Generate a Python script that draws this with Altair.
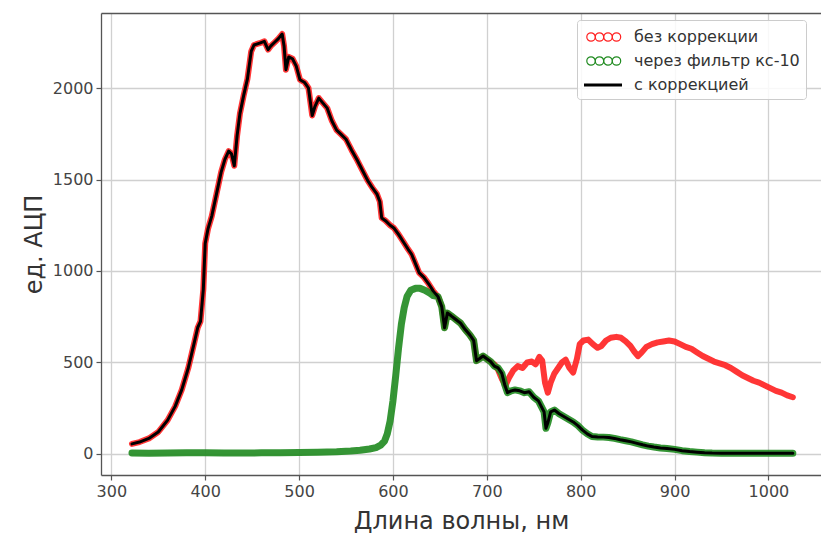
import altair as alt
import pandas as pd

# ---- data (wavelength nm, ADC units) ----
common_wl = [322, 330, 340, 350, 360, 368, 375, 382, 388, 392, 395, 398, 400, 403, 407,
             412, 417, 421, 425, 428, 431, 434, 437, 441, 445, 449, 452, 458, 463, 467,
             470, 474, 478, 482, 484, 486, 489, 493, 497, 501, 506, 510, 514, 517, 521,
             525, 530, 535, 540, 545, 550, 556, 562, 568, 573, 578, 583, 586, 588, 592,
             597, 601, 606, 611, 616, 620, 624, 628, 633, 638, 643, 648, 652, 655, 658,
             662, 667, 672, 677, 682, 686, 689, 692, 696, 700, 704]
common_val = [55, 65, 85, 120, 185, 260, 350, 470, 600, 690, 725, 900, 1150, 1230, 1300,
              1420, 1540, 1610, 1655, 1640, 1575, 1740, 1860, 1960, 2050, 2200, 2235, 2245, 2255, 2210,
              2230, 2250, 2270, 2295, 2230, 2100, 2170, 2160, 2120, 2045, 2030, 2000, 1850, 1900, 1945,
              1920, 1890, 1820, 1770, 1745, 1720, 1660, 1605, 1545, 1495, 1455, 1420, 1380, 1290, 1275,
              1250, 1235, 1200, 1160, 1120, 1090, 1040, 990, 965, 930, 890, 860, 805, 690, 770,
              755, 735, 715, 680, 650, 620, 510, 520, 535, 520, 505]

red_tail_wl = [708, 712, 716, 720, 724, 728, 733, 738, 743, 748, 752, 756, 759, 762, 765,
               768, 772, 776, 780, 784, 788, 792, 796, 799, 803, 808, 813, 818, 822, 827,
               832, 838, 843, 848, 853, 857, 861, 865, 870, 876, 882, 888, 894, 900, 906,
               912, 918, 924, 930, 936, 942, 948, 954, 960, 966, 972, 978, 984, 990, 996,
               1002, 1008, 1014, 1020, 1026]
red_tail_val = [490, 460, 410, 375, 420, 455, 480, 470, 500, 505, 490, 530, 510, 390, 335,
                390, 440, 470, 500, 515, 470, 445, 520, 600, 620, 625, 600, 580, 590, 620,
                635, 640, 635, 615, 590, 560, 535, 555, 585, 600, 610, 615, 620, 615, 600,
                585, 575, 555, 535, 520, 505, 495, 485, 470, 450, 430, 415, 400, 390, 375,
                360, 345, 335, 320, 310]

black_tail_wl = [708, 712, 716, 719, 722, 726, 730, 735, 740, 745, 750, 755, 758, 761, 763,
                 765, 768, 772, 777, 782, 787, 792, 797, 802, 807, 812, 818, 824, 830, 836,
                 842, 848, 854, 860, 866, 872, 878, 885, 892, 900, 908, 916, 924, 932, 940,
                 950, 960, 970, 980, 990, 1000, 1010, 1018, 1026]
black_tail_val = [480, 470, 440, 380, 335, 345, 350, 345, 335, 340, 310, 290, 260, 230, 140,
                  170, 230, 240, 220, 205, 190, 175, 155, 130, 110, 95, 93, 92, 90, 85,
                  78, 72, 66, 58, 50, 43, 38, 33, 30, 25, 18, 13, 10, 7, 5,
                  4, 4, 4, 4, 4, 4, 4, 4, 4]

green_head_wl = [322, 340, 360, 380, 400, 420, 440, 460, 480, 500, 520, 540, 555, 565, 575,
                 582, 587, 591, 594, 597, 600, 603, 606, 609, 612, 615, 619, 624, 629, 634,
                 639, 643]
green_head_val = [5, 4, 5, 6, 7, 5, 5, 6, 7, 8, 10, 12, 16, 20, 27,
                  35, 48, 70, 110, 180, 290, 430, 580, 710, 800, 860, 895, 905, 905, 895,
                  880, 865]

series_names = ["без коррекции", "через фильтр кс-10", "с коррекцией"]
series_colors = ["#ff2020", "#1f8a1f", "#000000"]

x_ticks = [300, 400, 500, 600, 700, 800, 900, 1000]
y_ticks = [0, 500, 1000, 1500, 2000]

# ---- tables ----
red_df = pd.DataFrame({"wl": common_wl + red_tail_wl, "v": common_val + red_tail_val})
black_df = pd.DataFrame({"wl": common_wl + black_tail_wl, "v": common_val + black_tail_val})
g_mid = [(w, v) for w, v in zip(common_wl, common_val) if w >= 648]
green_df = pd.DataFrame({
    "wl": green_head_wl + [w for w, _ in g_mid] + black_tail_wl,
    "v": green_head_val + [v for _, v in g_mid] + black_tail_val,
})
legend_df = pd.DataFrame({"series": series_names})

FONT = "DejaVu Sans"
XDOM = [289, 1056]
YDOM = [-115, 2410]


def circles_path(centers, r):
    parts = []
    for c in centers:
        parts.append(f"M{c - r:.3f},0A{r},{r} 0 1,1 {c + r:.3f},0A{r},{r} 0 1,1 {c - r:.3f},0Z")
    return "".join(parts)


dots = circles_path([-0.3, 0.55, 1.4, 2.25], 0.42)
bar = "".join(f"M-1,{y}H2.8" for y in (-0.1, -0.05, 0, 0.05, 0.1))
shape_range = [dots, dots, bar]

x_main = alt.X("wl:Q", scale=alt.Scale(domain=XDOM, nice=False, zero=False),
               axis=alt.Axis(values=x_ticks, format="d",
                             title="Длина волны, нм", grid=True))
y_main = alt.Y("v:Q", scale=alt.Scale(domain=YDOM, nice=False, zero=False),
               axis=alt.Axis(values=y_ticks, format="d", title="ед. АЦП", grid=True))

red_layer = alt.Chart(red_df).mark_line(
    color=series_colors[0], strokeWidth=6, strokeJoin="round", strokeCap="round", opacity=0.9
).encode(x=x_main, y=y_main)

green_layer = alt.Chart(green_df).mark_line(
    color=series_colors[1], strokeWidth=7, strokeJoin="round", strokeCap="round", opacity=0.9
).encode(x=x_main, y=y_main)

leg_def = alt.Legend(title=None, orient="none", legendX=476, legendY=7,
                     symbolSize=400, labelOffset=29, rowPadding=5, padding=6,
                     labelLimit=400)
legend_layer = alt.Chart(legend_df).mark_point(
    filled=False, strokeWidth=1.2, opacity=1
).encode(
    color=alt.Color("series:N", scale=alt.Scale(domain=series_names, range=series_colors),
                    legend=leg_def),
    shape=alt.Shape("series:N", scale=alt.Scale(domain=series_names, range=shape_range),
                    legend=leg_def),
).transform_filter("false")

base = alt.layer(red_layer, green_layer, legend_layer)

black_layer = alt.Chart(black_df).mark_line(
    color="#000000", strokeWidth=3, strokeJoin="round", strokeCap="round"
).encode(
    x=alt.X("wl:Q", scale=alt.Scale(domain=XDOM, nice=False, zero=False),
            axis=alt.Axis(orient="top", labels=False, ticks=False, grid=False, title=None,
                          domain=True)),
    y=y_main,
)

chart = alt.layer(base, black_layer).resolve_axis(x="independent").properties(
    width=720, height=462,
    autosize=alt.AutoSizeParams(type="none"),
    padding={"left": 101, "top": 13, "right": 0, "bottom": 60},
).configure_view(stroke=None).configure_axis(
    labelFont=FONT, titleFont=FONT, labelFontSize=16, titleFontSize=24,
    labelColor="#444444", titleColor="#333333", titleFontWeight="normal",
    domainColor="#555555", domainWidth=1.3, tickColor="#555555", tickSize=5, tickWidth=1.2,
    gridColor="#d0d0d0", gridWidth=1.3, labelPadding=3,
).configure_axisX(titlePadding=10).configure_axisY(titlePadding=6).configure_legend(
    labelFont=FONT, labelFontSize=16, labelColor="#333333",
    strokeColor="#cccccc", fillColor="rgba(255,255,255,0.85)", cornerRadius=3,
    symbolStrokeWidth=1.2,
)

chart.save("out.html", embed_options={"renderer": "svg", "actions": False})
